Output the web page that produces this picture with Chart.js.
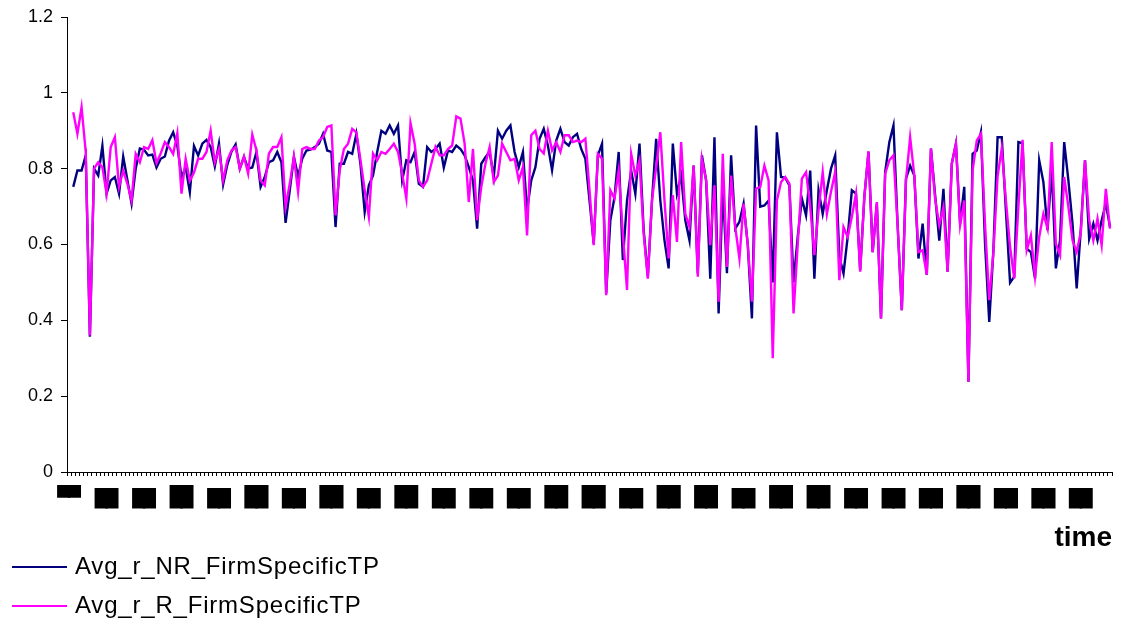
<!DOCTYPE html>
<html>
<head>
<meta charset="utf-8">
<title>Avg_r FirmSpecificTP</title>
<script src="https://cdn.jsdelivr.net/npm/chart.js@4.4.1/dist/chart.umd.min.js"></script>
<style>
  html, body { margin: 0; padding: 0; background: #fff; }
  #wrap { width: 1122px; height: 625px; position: relative; }
</style>
</head>
<body>
<div id="wrap"><canvas id="chart"></canvas></div>
<script>
// Valores: 250 periodos, la primera categoria del eje va vacia
const seriesNames  = ['Avg_r_NR_FirmSpecificTP', 'Avg_r_R_FirmSpecificTP'];
const seriesColors = ['#000080', '#FF00FF'];

const nrValues = [
  0.752, 0.795, 0.795, 0.835, 0.357, 0.800, 0.782, 0.860, 0.734, 0.769,
  0.778, 0.734, 0.832, 0.770, 0.708, 0.800, 0.853, 0.850, 0.835, 0.837,
  0.803, 0.826, 0.832, 0.874, 0.896, 0.860, 0.778, 0.803, 0.738, 0.860,
  0.835, 0.866, 0.876, 0.857, 0.806, 0.866, 0.758, 0.810, 0.845, 0.864,
  0.800, 0.831, 0.800, 0.803, 0.844, 0.752, 0.778, 0.817, 0.822, 0.844,
  0.817, 0.657, 0.743, 0.831, 0.780, 0.826, 0.848, 0.850, 0.857, 0.866,
  0.892, 0.848, 0.844, 0.646, 0.813, 0.813, 0.844, 0.839, 0.892, 0.810,
  0.686, 0.756, 0.782, 0.844, 0.900, 0.892, 0.914, 0.892, 0.914, 0.769,
  0.822, 0.817, 0.844, 0.760, 0.752, 0.857, 0.844, 0.852, 0.866, 0.803,
  0.848, 0.844, 0.861, 0.852, 0.835, 0.804, 0.769, 0.642, 0.813, 0.830,
  0.844, 0.778, 0.900, 0.879, 0.900, 0.914, 0.844, 0.804, 0.844, 0.690,
  0.769, 0.804, 0.879, 0.905, 0.861, 0.796, 0.874, 0.905, 0.870, 0.861,
  0.883, 0.892, 0.852, 0.826, 0.716, 0.602, 0.835, 0.866, 0.471, 0.664,
  0.725, 0.844, 0.559, 0.716, 0.795, 0.734, 0.866, 0.638, 0.515, 0.716,
  0.879, 0.716, 0.611, 0.537, 0.866, 0.734, 0.782, 0.664, 0.611, 0.808,
  0.524, 0.835, 0.769, 0.510, 0.883, 0.418, 0.752, 0.524, 0.835, 0.642,
  0.660, 0.708, 0.600, 0.405, 0.914, 0.700, 0.703, 0.716, 0.500, 0.896,
  0.778, 0.776, 0.756, 0.500, 0.620, 0.721, 0.677, 0.795, 0.510, 0.743,
  0.681, 0.743, 0.800, 0.835, 0.567, 0.524, 0.620, 0.743, 0.734, 0.532,
  0.725, 0.844, 0.580, 0.708, 0.405, 0.791, 0.870, 0.914, 0.650, 0.427,
  0.774, 0.808, 0.782, 0.563, 0.655, 0.520, 0.853, 0.730, 0.610, 0.747,
  0.528, 0.813, 0.866, 0.655, 0.752, 0.238, 0.839, 0.848, 0.896, 0.600,
  0.396, 0.585, 0.883, 0.883, 0.690, 0.499, 0.515, 0.870, 0.867, 0.589,
  0.580, 0.510, 0.822, 0.765, 0.638, 0.800, 0.537, 0.611, 0.870, 0.770,
  0.655, 0.484, 0.642, 0.822, 0.615, 0.655, 0.611, 0.664, 0.708, 0.646
];

const rValues = [
  0.949, 0.892, 0.962, 0.844, 0.360, 0.800, 0.817, 0.804, 0.734, 0.857,
  0.883, 0.752, 0.795, 0.760, 0.716, 0.839, 0.817, 0.857, 0.852, 0.875,
  0.815, 0.840, 0.870, 0.857, 0.839, 0.894, 0.734, 0.826, 0.768, 0.790,
  0.826, 0.826, 0.844, 0.900, 0.817, 0.852, 0.769, 0.822, 0.848, 0.857,
  0.800, 0.832, 0.787, 0.890, 0.848, 0.769, 0.756, 0.840, 0.857, 0.857,
  0.883, 0.699, 0.760, 0.832, 0.739, 0.852, 0.857, 0.852, 0.852, 0.874,
  0.883, 0.910, 0.914, 0.677, 0.796, 0.852, 0.866, 0.905, 0.896, 0.822,
  0.743, 0.673, 0.840, 0.822, 0.844, 0.839, 0.852, 0.866, 0.844, 0.787,
  0.721, 0.920, 0.866, 0.769, 0.752, 0.769, 0.813, 0.857, 0.835, 0.835,
  0.852, 0.861, 0.938, 0.932, 0.866, 0.712, 0.852, 0.664, 0.752, 0.813,
  0.857, 0.765, 0.782, 0.866, 0.844, 0.822, 0.826, 0.769, 0.804, 0.624,
  0.888, 0.900, 0.852, 0.840, 0.900, 0.848, 0.870, 0.844, 0.888, 0.888,
  0.870, 0.874, 0.870, 0.879, 0.743, 0.598, 0.839, 0.826, 0.466, 0.743,
  0.721, 0.795, 0.629, 0.480, 0.839, 0.782, 0.822, 0.629, 0.510, 0.716,
  0.804, 0.896, 0.716, 0.563, 0.730, 0.607, 0.870, 0.681, 0.646, 0.808,
  0.515, 0.826, 0.769, 0.598, 0.756, 0.449, 0.839, 0.541, 0.782, 0.646,
  0.563, 0.708, 0.600, 0.449, 0.747, 0.752, 0.808, 0.769, 0.300, 0.716,
  0.765, 0.778, 0.760, 0.418, 0.600, 0.774, 0.791, 0.700, 0.572, 0.690,
  0.791, 0.680, 0.740, 0.791, 0.506, 0.646, 0.620, 0.673, 0.734, 0.528,
  0.725, 0.846, 0.580, 0.712, 0.405, 0.787, 0.822, 0.835, 0.650, 0.427,
  0.769, 0.883, 0.782, 0.580, 0.585, 0.520, 0.853, 0.720, 0.651, 0.699,
  0.528, 0.813, 0.866, 0.651, 0.716, 0.238, 0.795, 0.874, 0.892, 0.650,
  0.453, 0.580, 0.780, 0.853, 0.716, 0.594, 0.510, 0.700, 0.876, 0.585,
  0.624, 0.515, 0.620, 0.681, 0.642, 0.870, 0.602, 0.572, 0.778, 0.700,
  0.611, 0.580, 0.633, 0.822, 0.664, 0.611, 0.668, 0.598, 0.747, 0.642
];

const yTicks = [0, 0.2, 0.4, 0.6, 0.8, 1, 1.2];

// Las etiquetas del eje x salen ilegibles en el original (bloques negros), una cada 9 periodos
const tickBlocks = [
  '▀▀', '▇▇', '▇▇', '██', '▇▇', '██', '▇▇', '██', '▇▇', '██',
  '▇▇', '▇▇', '▇▇', '██', '██', '▇▇', '██', '██', '▇▇', '██',
  '██', '▇▇', '▇▇', '▇▇', '██', '▇▇', '▇▇', '▇▇'
];
const labelEvery = 9;
const axisTitle = 'time';

const categories = Array.from({ length: nrValues.length + 1 }, (_, i) => i);

// Leyenda abajo a la izquierda, una serie por linea
const bottomLegend = {
  id: 'bottomLegend',
  afterDraw(chart) {
    const ctx = chart.ctx;
    ctx.save();
    ctx.font = '24px "Liberation Sans", Arial, sans-serif';
    ctx.letterSpacing = '0.8px';
    ctx.textBaseline = 'middle';
    chart.data.datasets.forEach((ds, i) => {
      const y = 567 + i * 39;
      ctx.strokeStyle = ds.borderColor;
      ctx.lineWidth = 2;
      ctx.beginPath();
      ctx.moveTo(12, y);
      ctx.lineTo(67, y);
      ctx.stroke();
      ctx.fillStyle = '#000';
      ctx.fillText(ds.label, 75, y);
    });
    ctx.restore();
  }
};

const axisFont = { family: '"Liberation Sans", Arial, sans-serif', size: 18, lineHeight: 1 };

new Chart(document.getElementById('chart'), {
  type: 'line',
  data: {
    labels: categories,
    datasets: [
      { label: seriesNames[0], data: [null, ...nrValues], borderColor: seriesColors[0], order: 1 },
      { label: seriesNames[1], data: [null, ...rValues], borderColor: seriesColors[1], order: 0 }
    ]
  },
  options: {
    responsive: true,
    maintainAspectRatio: false,
    animation: false,
    layout: { padding: { top: 15, right: 3, bottom: 70, left: 0 } },
    plugins: { legend: { display: false }, tooltip: { enabled: false } },
    elements: {
      point: { radius: 0 },
      line: { borderWidth: 2.4, tension: 0, fill: false }
    },
    scales: {
      x: {
        type: 'category',
        offset: true,
        grid: { display: true, drawOnChartArea: false, offset: true, tickLength: 4, color: '#000', lineWidth: 1 },
        border: { display: true, color: '#000', width: 1 },
        ticks: {
          autoSkip: false,
          maxRotation: 0,
          minRotation: 0,
          padding: 12,
          color: '#000',
          textStrokeColor: '#000',
          textStrokeWidth: 2,
          font: { family: '"DejaVu Sans Mono", monospace', size: 18 },
          callback: (v, i) => (i % labelEvery === 0 ? (tickBlocks[i / labelEvery] || '') : '')
        },
        title: {
          display: true,
          text: axisTitle,
          align: 'end',
          color: '#000',
          padding: 0,
          font: { family: '"Liberation Sans", Arial, sans-serif', size: 28, weight: 'bold' }
        },
        afterFit: s => { s.height = 83; }
      },
      y: {
        min: 0,
        max: 1.2,
        afterBuildTicks: s => { s.ticks = yTicks.map(v => ({ value: v })); },
        grid: { display: true, drawOnChartArea: false, tickLength: 6, color: '#000' },
        border: { display: true, color: '#000', width: 1 },
        ticks: {
          padding: 8,
          color: '#000',
          font: axisFont,
          callback: v => String(Math.round(v * 10) / 10)
        },
        afterFit: s => { s.width = 67; }
      }
    }
  },
  plugins: [bottomLegend]
});
</script>
</body>
</html>
